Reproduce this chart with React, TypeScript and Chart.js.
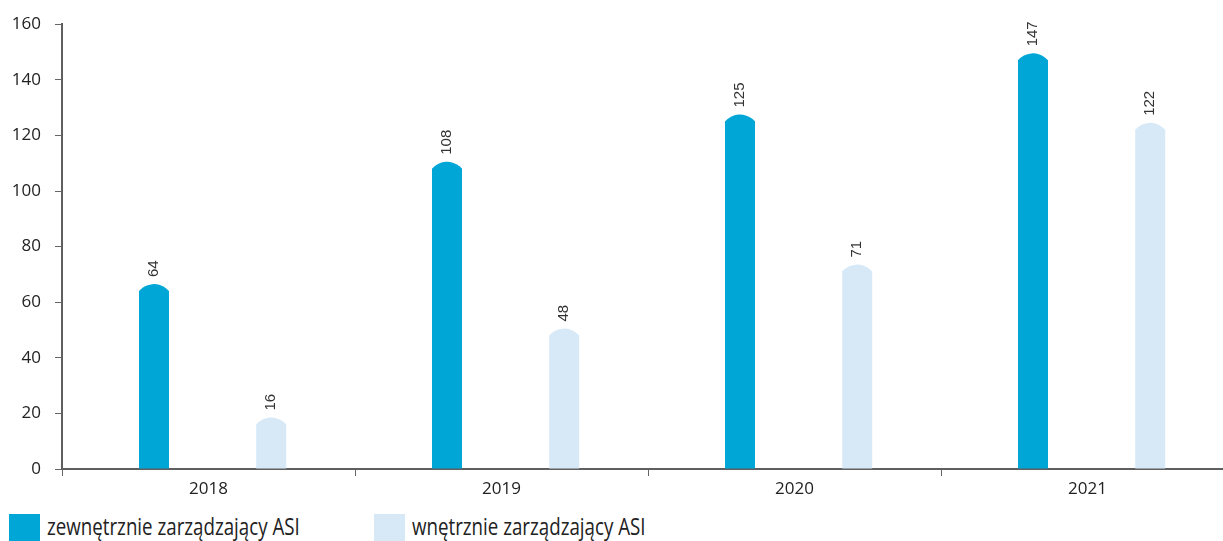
import React, { useEffect, useRef } from "react";
import { Chart, registerables } from "chart.js";

Chart.register(...registerables);

const categories = ["2018", "2019", "2020", "2021"];
const externalValues = [64, 108, 125, 147];
const internalValues = [16, 48, 71, 122];
const seriesNames = ["zewnętrznie zarządzający ASI", "wnętrznie zarządzający ASI"];
const seriesColors = ["#00A6D6", "#D7E9F7"];
const yTickMax = 160;
const yTickStep = 20;
// bars sit slightly right of the category centres in the original
const barAxisShift = 0.014;

const domePlugin = {
  id: "domeAndLabels",
  afterDatasetsDraw(chart: any) {
    const ctx = chart.ctx;
    chart.data.datasets.forEach((ds: any, di: number) => {
      const meta = chart.getDatasetMeta(di);
      meta.data.forEach((el: any, i: number) => {
        const { x, y, width } = el.getProps(["x", "y", "width"], true);
        const h = 7;
        const half = width / 2;
        const R = (h * h + half * half) / (2 * h);
        const cy = y - h + R;
        const a1 = Math.atan2(y - cy, -half);
        const a2 = Math.atan2(y - cy, half);
        ctx.save();
        ctx.beginPath();
        ctx.arc(x, cy, R, a1, a2, false);
        ctx.lineTo(x + half, y + 1);
        ctx.lineTo(x - half, y + 1);
        ctx.closePath();
        ctx.fillStyle = ds.backgroundColor;
        ctx.fill();
        ctx.restore();

        ctx.save();
        ctx.translate(x, y - 14);
        ctx.rotate(-Math.PI / 2);
        ctx.font = "15px 'Liberation Sans', Arial, sans-serif";
        ctx.fillStyle = "#333333";
        ctx.textAlign = "left";
        ctx.textBaseline = "middle";
        const v = ds.data[i];
        ctx.fillText(String(typeof v === "object" ? v.y : v), 0, 0);
        ctx.restore();
      });
    });
  },
};

export default function App() {
  const canvasRef = useRef<HTMLCanvasElement>(null);

  useEffect(() => {
    if (!canvasRef.current) return;
    const toPoints = (arr: number[]) => arr.map((v, i) => ({ x: i, y: v }));
    const chart = new Chart(canvasRef.current, {
      type: "bar",
      data: {
        labels: categories,
        datasets: [
          {
            label: seriesNames[0],
            data: toPoints(externalValues),
            backgroundColor: seriesColors[0],
            categoryPercentage: 0.8,
            barPercentage: 0.5,
            maxBarThickness: 30,
            xAxisID: "xb",
          },
          {
            label: seriesNames[1],
            data: toPoints(internalValues),
            backgroundColor: seriesColors[1],
            categoryPercentage: 0.8,
            barPercentage: 0.5,
            maxBarThickness: 30,
            xAxisID: "xb",
          },
        ],
      },
      options: {
        responsive: false,
        animation: false,
        layout: { padding: { top: 24, right: 6, left: 0, bottom: 0 } },
        plugins: {
          legend: { display: false },
          tooltip: { enabled: false },
        },
        scales: {
          x: {
            type: "category",
            labels: categories,
            grid: {
              drawOnChartArea: false,
              drawTicks: true,
              tickLength: 7,
              color: "#666666",
              offset: true,
            },
            border: { color: "#5f5f5f", width: 2 },
            ticks: {
              font: { family: "'Open Sans'", size: 17 },
              color: "#222222",
              padding: 3,
            },
            afterFit: (s: any) => {
              s.height = 31;
            },
          },
          xb: {
            type: "linear",
            display: false,
            min: -0.5 - barAxisShift,
            max: categories.length - 0.5 - barAxisShift,
            offset: false,
            afterBuildTicks: (s: any) => {
              s.ticks = categories.map((_, i) => ({ value: i }));
            },
          },
          y: {
            min: 0,
            max: yTickMax,
            ticks: {
              stepSize: yTickStep,
              font: { family: "'Open Sans'", size: 17 },
              color: "#222222",
              padding: 14,
            },
            grid: {
              drawOnChartArea: false,
              drawTicks: true,
              tickLength: 7,
              color: "#666666",
            },
            border: { color: "#5f5f5f", width: 2 },
            afterFit: (s: any) => {
              s.width = 62;
            },
          },
        },
      },
      plugins: [domePlugin],
    });
    return () => chart.destroy();
  }, []);

  const legendText: React.CSSProperties = {
    position: "absolute",
    top: 512,
    fontFamily: "'Open Sans', sans-serif",
    fontSize: 24,
    lineHeight: "28px",
    color: "#222222",
    whiteSpace: "nowrap",
    transformOrigin: "left center",
    transform: "scaleX(0.78)",
  };

  return (
    <div
      style={{
        position: "fixed",
        left: 0,
        top: 0,
        width: 1223,
        height: 541,
        overflow: "hidden",
        background: "#ffffff",
      }}
    >
      <canvas
        ref={canvasRef}
        width={1240}
        height={500}
        style={{ position: "absolute", left: 0, top: 0, width: 1240, height: 500 }}
      />
      <div style={{ position: "absolute", left: 9, top: 514, width: 31, height: 27, background: seriesColors[0] }} />
      <div style={{ ...legendText, left: 47 }}>{seriesNames[0]}</div>
      <div style={{ position: "absolute", left: 374, top: 514, width: 31, height: 27, background: seriesColors[1] }} />
      <div style={{ ...legendText, left: 412 }}>{seriesNames[1]}</div>
    </div>
  );
}
